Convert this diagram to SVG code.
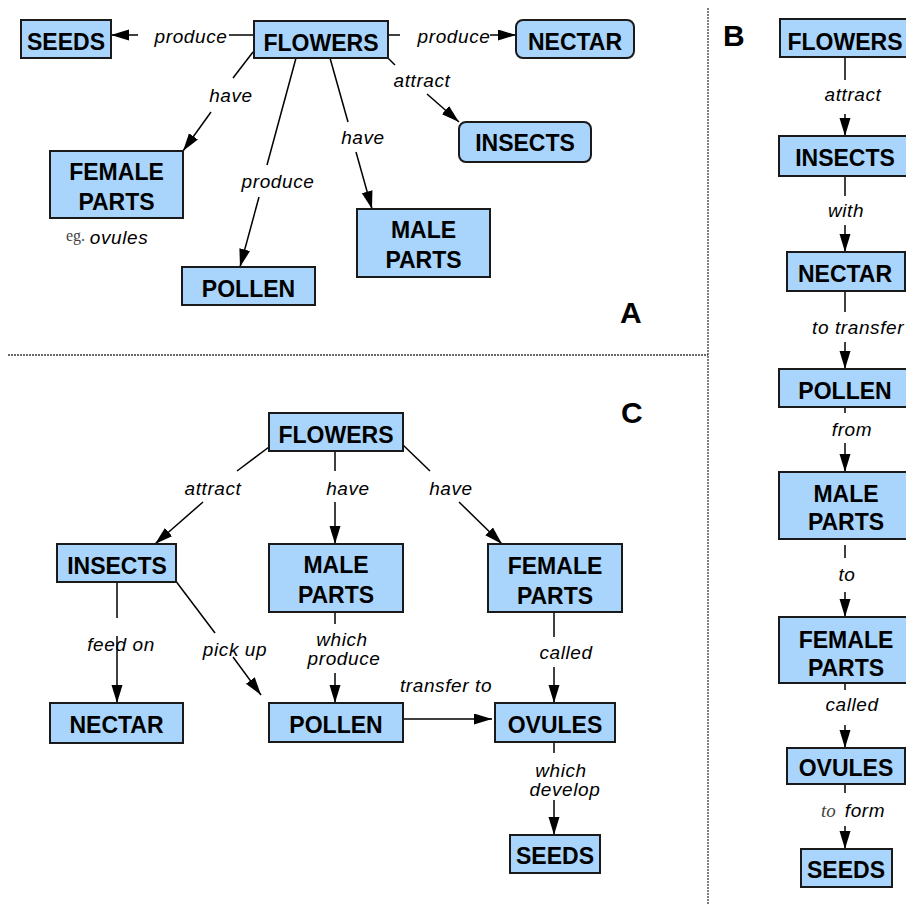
<svg xmlns="http://www.w3.org/2000/svg" width="906" height="905" viewBox="0 0 906 905">
<style>
.n{fill:#a9d4fb;stroke:#1a1a1a;stroke-width:2}
.t{font-family:"Liberation Sans",Arial,sans-serif;font-weight:bold;font-size:23px;fill:#000;text-anchor:middle}
.l{font-family:"Liberation Sans",Arial,sans-serif;font-style:italic;font-size:19px;letter-spacing:0.6px;fill:#000;text-anchor:middle}
.s{font-family:"Liberation Serif","Times New Roman",serif;fill:#444}
.c line{stroke:#000;stroke-width:1.5}
.a{marker-end:url(#ah)}
.big{font-family:"Liberation Sans",Arial,sans-serif;font-weight:bold;font-size:30px;fill:#000}
.sep{stroke:#3a3a3a;stroke-width:1.3;stroke-dasharray:2,1;fill:none}
</style>
<defs>
<marker id="ah" markerUnits="userSpaceOnUse" markerWidth="19" markerHeight="12" refX="18" refY="5.5" orient="auto">
<path d="M0,0 L18,5.5 L0,11 z" fill="#000"/>
</marker>
</defs>
<rect width="906" height="905" fill="#fff"/>

<g id="separators">
<line class="sep" x1="8" y1="355" x2="708" y2="355"/>
<line class="sep" x1="708" y1="8" x2="708" y2="905"/>
</g>

<g id="panel-labels">
<text class="big" x="620" y="323">A</text>
<text class="big" x="723" y="46">B</text>
<text class="big" x="621" y="423">C</text>
</g>

<g id="connectors" class="c">
<!-- Panel A -->
<line x1="254" y1="35" x2="229" y2="35"/>
<line class="a" x1="138" y1="35" x2="111" y2="35"/>
<line x1="388" y1="35" x2="400" y2="35"/>
<line class="a" x1="490" y1="35" x2="516" y2="35"/>
<line x1="388" y1="58" x2="395" y2="65"/>
<line class="a" x1="427" y1="94" x2="459" y2="122"/>
<line x1="253" y1="52" x2="233" y2="78"/>
<line class="a" x1="211" y1="112" x2="183" y2="151"/>
<line x1="296" y1="58" x2="267" y2="165"/>
<line class="a" x1="259" y1="197" x2="240" y2="267"/>
<line x1="330" y1="58" x2="348" y2="122"/>
<line class="a" x1="356" y1="152" x2="372" y2="209"/>
<!-- Panel B -->
<line x1="845" y1="57" x2="845" y2="80"/>
<line class="a" x1="845" y1="114" x2="845" y2="136"/>
<line x1="845" y1="176" x2="845" y2="196"/>
<line class="a" x1="845" y1="225" x2="845" y2="252"/>
<line x1="845" y1="291" x2="845" y2="312"/>
<line class="a" x1="845" y1="342" x2="845" y2="369"/>
<line x1="845" y1="407" x2="845" y2="413"/>
<line class="a" x1="845" y1="443" x2="845" y2="472"/>
<line x1="845" y1="545" x2="845" y2="558"/>
<line class="a" x1="845" y1="592" x2="845" y2="617"/>
<line x1="845" y1="683" x2="845" y2="690"/>
<line class="a" x1="845" y1="725" x2="845" y2="748"/>
<line x1="845" y1="784" x2="845" y2="793"/>
<line class="a" x1="845" y1="826" x2="845" y2="849"/>
<!-- Panel C -->
<line x1="269" y1="447" x2="237" y2="471"/>
<line class="a" x1="203" y1="502" x2="155" y2="544"/>
<line x1="335" y1="451" x2="335" y2="471"/>
<line class="a" x1="335" y1="502" x2="335" y2="544"/>
<line x1="403" y1="445" x2="430" y2="471"/>
<line class="a" x1="459" y1="502" x2="502" y2="544"/>
<line x1="117" y1="582" x2="117" y2="618"/>
<line class="a" x1="117" y1="636" x2="117" y2="703"/>
<line x1="175" y1="580" x2="215" y2="633"/>
<line class="a" x1="233" y1="657" x2="261" y2="695"/>
<line x1="335" y1="612" x2="335" y2="624"/>
<line class="a" x1="335" y1="673" x2="335" y2="703"/>
<line class="a" x1="403" y1="719" x2="492" y2="719"/>
<line x1="554" y1="612" x2="554" y2="637"/>
<line class="a" x1="554" y1="667" x2="554" y2="703"/>
<line x1="554" y1="742" x2="554" y2="753"/>
<line class="a" x1="554" y1="800" x2="554" y2="835"/>
</g>

<g id="link-labels">
<text class="l" x="191" y="43">produce</text>
<text class="l" x="454" y="43">produce</text>
<text class="l" x="422" y="87">attract</text>
<text class="l" x="231" y="102">have</text>
<text class="l" x="278" y="188">produce</text>
<text class="l" x="363" y="144">have</text>
<text x="66" y="241" class="s" font-size="16">eg.</text>
<text class="l" x="119" y="244">ovules</text>

<text class="l" x="853" y="101">attract</text>
<text class="l" x="846" y="217">with</text>
<text class="l" x="812" y="334" style="text-anchor:start">to transfer</text>
<text class="l" x="852" y="436">from</text>
<text class="l" x="847" y="581">to</text>
<text class="l" x="852" y="711">called</text>
<text x="821" y="817" class="s" font-size="19" font-style="italic">to</text>
<text class="l" x="865" y="817">form</text>

<text class="l" x="213" y="495">attract</text>
<text class="l" x="348" y="495">have</text>
<text class="l" x="451" y="495">have</text>
<text class="l" x="121" y="651">feed on</text>
<text class="l" x="235" y="656">pick up</text>
<text class="l" x="342" y="646">which</text>
<text class="l" x="344" y="665">produce</text>
<text class="l" x="446" y="692">transfer to</text>
<text class="l" x="566" y="659">called</text>
<text class="l" x="561" y="777">which</text>
<text class="l" x="565" y="796">develop</text>
</g>

<!-- Panel A nodes -->
<g id="a-seeds"><rect class="n" x="21" y="20" width="90" height="38"/><text class="t" x="66" y="50">SEEDS</text></g>
<g id="a-flowers"><rect class="n" x="254" y="21" width="134" height="37"/><text class="t" x="321" y="51">FLOWERS</text></g>
<g id="a-nectar"><rect class="n" x="516" y="20" width="118" height="38" rx="7"/><text class="t" x="575" y="50">NECTAR</text></g>
<g id="a-insects"><rect class="n" x="459" y="122" width="132" height="40" rx="7"/><text class="t" x="525" y="151">INSECTS</text></g>
<g id="a-female"><rect class="n" x="50" y="151" width="133" height="67"/><text class="t" x="116.5" y="180">FEMALE</text><text class="t" x="116.5" y="210">PARTS</text></g>
<g id="a-pollen"><rect class="n" x="182" y="267" width="133" height="38"/><text class="t" x="248.5" y="297">POLLEN</text></g>
<g id="a-male"><rect class="n" x="357" y="209" width="133" height="68"/><text class="t" x="423.5" y="238">MALE</text><text class="t" x="423.5" y="268">PARTS</text></g>

<!-- Panel B nodes -->
<g id="b-flowers"><rect class="n" x="780" y="19" width="133" height="38"/><text class="t" x="845" y="50">FLOWERS</text></g>
<g id="b-insects"><rect class="n" x="779" y="136" width="134" height="40"/><text class="t" x="845" y="166">INSECTS</text></g>
<g id="b-nectar"><rect class="n" x="787" y="252" width="118" height="39"/><text class="t" x="845" y="282">NECTAR</text></g>
<g id="b-pollen"><rect class="n" x="779" y="369" width="134" height="38"/><text class="t" x="845" y="399">POLLEN</text></g>
<g id="b-male"><rect class="n" x="779" y="472" width="134" height="67"/><text class="t" x="846" y="502">MALE</text><text class="t" x="846" y="530">PARTS</text></g>
<g id="b-female"><rect class="n" x="779" y="617" width="134" height="66"/><text class="t" x="846" y="648">FEMALE</text><text class="t" x="846" y="676">PARTS</text></g>
<g id="b-ovules"><rect class="n" x="787" y="748" width="118" height="36"/><text class="t" x="846" y="776">OVULES</text></g>
<g id="b-seeds"><rect class="n" x="801" y="849" width="91" height="38"/><text class="t" x="846" y="878">SEEDS</text></g>

<!-- Panel C nodes -->
<g id="c-flowers"><rect class="n" x="269" y="413" width="134" height="38"/><text class="t" x="336" y="443">FLOWERS</text></g>
<g id="c-insects"><rect class="n" x="57" y="544" width="119" height="38"/><text class="t" x="117" y="574">INSECTS</text></g>
<g id="c-male"><rect class="n" x="269" y="544" width="134" height="68"/><text class="t" x="336" y="573">MALE</text><text class="t" x="336" y="603">PARTS</text></g>
<g id="c-female"><rect class="n" x="488" y="544" width="134" height="68"/><text class="t" x="555" y="574">FEMALE</text><text class="t" x="555" y="604">PARTS</text></g>
<g id="c-nectar"><rect class="n" x="50" y="703" width="133" height="40"/><text class="t" x="116.5" y="733">NECTAR</text></g>
<g id="c-pollen"><rect class="n" x="269" y="703" width="134" height="39"/><text class="t" x="336" y="733">POLLEN</text></g>
<g id="c-ovules"><rect class="n" x="495" y="703" width="120" height="39"/><text class="t" x="555" y="733">OVULES</text></g>
<g id="c-seeds"><rect class="n" x="510" y="835" width="90" height="38"/><text class="t" x="555" y="864">SEEDS</text></g>
</svg>
